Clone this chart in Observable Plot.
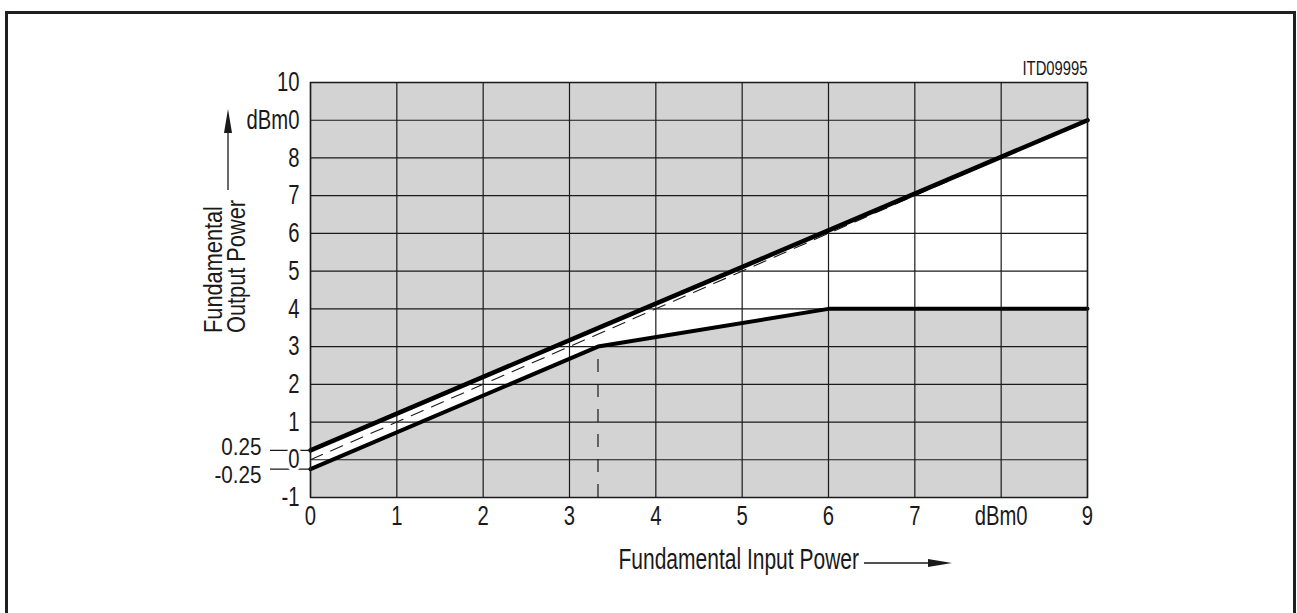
<!DOCTYPE html>
<html><head><meta charset="utf-8">
<script src="https://cdn.jsdelivr.net/npm/d3@7"></script>
<script src="https://cdn.jsdelivr.net/npm/@observablehq/plot@0.6"></script>
<style>
html,body{margin:0;padding:0;background:#fff;overflow:hidden;width:1297px;height:613px;}
#chart{position:absolute;left:0;top:0;}
#border{position:absolute;left:5px;top:11px;width:1291px;height:700px;border:3px solid #231f20;box-sizing:border-box;pointer-events:none;}
</style></head><body>
<div id="chart"></div><div id="border"></div>
<script>
// ---- data ----
const xTicks = [0, 1, 2, 3, 4, 5, 6, 7, 8, 9];
const xTickLabels = ["0", "1", "2", "3", "4", "5", "6", "7", "dBm0", "9"];
const yTicks = [-1, 0, 1, 2, 3, 4, 5, 6, 7, 8, 9, 10];
const yTickLabels = ["-1", "0", "1", "2", "3", "4", "5", "6", "7", "8", "dBm0", "10"];
const yExtraTicks = [0.25, -0.25];
const yExtraLabels = ["0.25", "-0.25"];
const inputPower = [0, 3.33, 6, 9];
const upperOutput = [0.25, 3.49, 6.08, 9];
const lowerOutput = [-0.25, 3, 4, 4];
const idealInput = [0, 9];
const idealOutput = [0, 9];
const kneeInput = [3.33];
const kneeOutput = [3];

const band = inputPower.map((x, i) => ({x, lo: lowerOutput[i], hi: upperOutput[i]}));
const ideal = idealInput.map((x, i) => ({x, y: idealOutput[i]}));
const knee = kneeInput.map((x, i) => ({x, y: kneeOutput[i]}));
const extra = yExtraTicks.map((y, i) => ({y, label: yExtraLabels[i]}));

const ink = "#1a1a1a";
const plot = Plot.plot({
  width: 1297, height: 613,
  marginLeft: 310, marginRight: 210, marginTop: 82, marginBottom: 116,
  style: {fontFamily: "'Liberation Sans', Arial, sans-serif", fontSize: "27px", background: "transparent", color: ink},
  x: {domain: [0, 9], axis: null},
  y: {domain: [-1, 10], axis: null},
  marks: [
    Plot.frame({fill: "#d3d3d3", stroke: "none"}),
    Plot.areaY(band, {x: "x", y1: "lo", y2: "hi", fill: "white"}),
    Plot.gridX(xTicks, {stroke: ink, strokeOpacity: 1, strokeWidth: 1.2}),
    Plot.gridY(yTicks, {stroke: ink, strokeOpacity: 1, strokeWidth: 1.2}),
    Plot.ruleX(knee, {x: "x", y1: -1, y2: "y", stroke: ink, strokeWidth: 1.2, strokeDasharray: "13,12"}),
    Plot.line(ideal, {x: "x", y: "y", stroke: ink, strokeWidth: 1.1, strokeDasharray: "13,9"}),
    Plot.line(band, {x: "x", y: "hi", stroke: "#000", strokeWidth: 4.5}),
    Plot.line(band, {x: "x", y: "lo", stroke: "#000", strokeWidth: 4}),
    Plot.frame({stroke: ink, strokeWidth: 1.5}),
    // short ticks for the ±0.25 tolerance marks
    Plot.axisY(yExtraTicks, {anchor: "left", label: null, tickSize: 40, tickPadding: 0, stroke: ink, strokeWidth: 1.2, tickFormat: () => ""}),
    Plot.text(extra.slice(0, 1), {x: 0, y: "y", text: "label", textAnchor: "end", lineAnchor: "bottom", dx: -49, dy: 5, fontSize: 24}),
    Plot.text(extra.slice(1), {x: 0, y: "y", text: "label", textAnchor: "end", lineAnchor: "top", dx: -49, dy: -3, fontSize: 24}),
    Plot.axisY(yTicks, {anchor: "left", label: null, tickSize: 0, tickPadding: 11,
      tickFormat: d => yTickLabels[yTicks.indexOf(d)]}),
    Plot.axisX(xTicks, {anchor: "bottom", label: null, tickSize: 0, tickPadding: 8,
      tickFormat: d => xTickLabels[xTicks.indexOf(d)]}),
    Plot.text(["ITD09995"], {text: d => d, frameAnchor: "top-right", textAnchor: "end", lineAnchor: "bottom", dy: -8, fontSize: 20}),
    Plot.text(["Fundamental Input Power"], {text: d => d, frameAnchor: "bottom-left", textAnchor: "start", lineAnchor: "bottom", dx: 308, dy: 71, fontSize: 30}),
    Plot.text(["Fundamental"], {text: d => d, frameAnchor: "left", rotate: -90, textAnchor: "start", lineAnchor: "middle", dx: -97, dy: 43, fontSize: 25}),
    Plot.text(["Output Power"], {text: d => d, frameAnchor: "left", rotate: -90, textAnchor: "start", lineAnchor: "middle", dx: -74, dy: 43, fontSize: 25})
  ]
});
document.getElementById("chart").append(plot);

// condensed lettering like the original datasheet font, plus a white halo
const ratioFor = s => s === "Fundamental Input Power" ? 0.70
  : (s === "Fundamental" || s === "Output Power") ? 0.87
  : (s === "0.25" || s === "-0.25") ? 0.86
  : s === "ITD09995" ? 0.74 : 0.75;
plot.querySelectorAll("text").forEach(t => {
  const s = t.textContent;
  if (!s) return;
  const len = t.getComputedTextLength();
  t.setAttribute("textLength", (len * ratioFor(s)).toFixed(2));
  t.setAttribute("lengthAdjust", "spacingAndGlyphs");
  t.style.stroke = "white";
  t.style.strokeWidth = "7px";
  t.style.strokeLinejoin = "round";
  t.style.paintOrder = "stroke";
});

// axis-title arrows
const g = d3.select(plot).append("g").attr("fill", ink).attr("stroke", ink);
g.append("line").attr("x1", 864).attr("x2", 932).attr("y1", 563).attr("y2", 563).attr("stroke-width", 1.3);
g.append("path").attr("d", "M952,563L928,559L928,567Z").attr("stroke", "none");
g.append("line").attr("x1", 228).attr("x2", 228).attr("y1", 190).attr("y2", 130).attr("stroke-width", 1.3);
g.append("path").attr("d", "M228,109L224,133L232,133Z").attr("stroke", "none");
</script>
</body></html>
